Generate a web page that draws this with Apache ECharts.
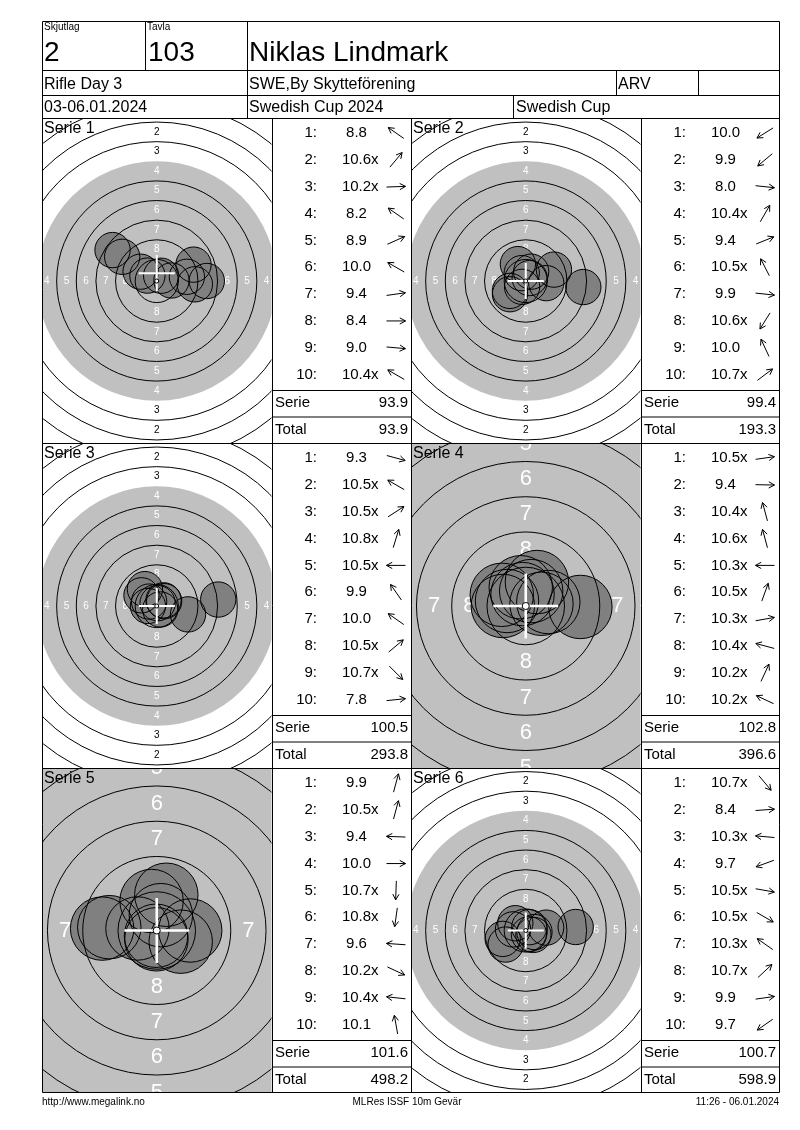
<!DOCTYPE html>
<html><head><meta charset="utf-8">
<script src="https://cdn.jsdelivr.net/npm/echarts@6/dist/echarts.min.js"></script>
<style>html,body{margin:0;padding:0;background:#fff}#c{width:800px;height:1130px}</style>
</head><body><div id="c"></div>
<script>
// ---------- data ----------
const headerLabels = ['Skjutlag', 'Tavla'];
const squad = '2';
const target = '103';
const shooterName = 'Niklas Lindmark';
const eventName = 'Rifle Day 3';
const clubName = 'SWE,By Skytteförening';
const classCode = 'ARV';
const dateText = '03-06.01.2024';
const competition = 'Swedish Cup 2024';
const competitionShort = 'Swedish Cup';
const footerLeft = 'http://www.megalink.no';
const footerMid = 'MLRes ISSF 10m Gevär';
const footerRight = '11:26 - 06.01.2024';
const serieNames = ['Serie 1', 'Serie 2', 'Serie 3', 'Serie 4', 'Serie 5', 'Serie 6'];

const serie1Scores = ['8.8', '10.6x', '10.2x', '8.2', '8.9', '10.0', '9.4', '8.4', '9.0', '10.4x'];
const serie2Scores = ['10.0', '9.9', '8.0', '10.4x', '9.4', '10.5x', '9.9', '10.6x', '10.0', '10.7x'];
const serie3Scores = ['9.3', '10.5x', '10.5x', '10.8x', '10.5x', '9.9', '10.0', '10.5x', '10.7x', '7.8'];
const serie4Scores = ['10.5x', '9.4', '10.4x', '10.6x', '10.3x', '10.5x', '10.3x', '10.4x', '10.2x', '10.2x'];
const serie5Scores = ['9.9', '10.5x', '9.4', '10.0', '10.7x', '10.8x', '9.6', '10.2x', '10.4x', '10.1'];
const serie6Scores = ['10.7x', '8.4', '10.3x', '9.7', '10.5x', '10.5x', '10.3x', '10.7x', '9.9', '9.7'];

// shot direction from the centre, degrees (0 = right, 90 = up)
const serie1Angles = [145, 50, 2, 145, 24, 150, 8, 0, -5, 150];
const serie2Angles = [212, 220, -6, 60, 22, 117, -6, 238, 115, 37];
const serie3Angles = [-15, 150, 33, 73, 180, 125, 145, 40, -45, 6];
const serie4Angles = [8, -1, 105, 105, 180, 70, 10, 165, 65, 155];
const serie5Angles = [75, 75, 178, 0, 268, 262, 176, -25, 174, 100];
const serie6Angles = [-50, 4, 175, 200, -10, -30, 145, 43, 8, 215];

const crossOffsetY = [1.0, 0, 0, 0, 0, 0];   // mm
const zoomedTarget = [false, false, false, true, true, false];

const allScores = [serie1Scores, serie2Scores, serie3Scores, serie4Scores, serie5Scores, serie6Scores];
const allAngles = [serie1Angles, serie2Angles, serie3Angles, serie4Angles, serie5Angles, serie6Angles];

// ---------- layout ----------
const FONT = '"Liberation Sans", Arial, sans-serif';
const targetLeft = [42, 411];
const targetWidth = 229.5;
const tableLeft = [272, 641];
const tableRight = [411, 779];
const rowEdges = [118.5, 443.5, 768.5, 1092.5];
const SCALE_NORMAL = 7.85, SCALE_ZOOM = 14.1; // px per mm
const SHOT_R = 2.25;
const ringR = k => 0.25 + (10 - k) * 2.5;

const measureCtx = document.createElement('canvas').getContext('2d');
function textW(t, size) { measureCtx.font = size + 'px ' + FONT; return measureCtx.measureText(t).width; }

function shotPositions(scores, angles) {
  return scores.map((s, i) => {
    const v = parseFloat(s);
    const d = Math.max(0, (10.95 - v) * 2.5);
    const a = angles[i] * Math.PI / 180;
    return [d * Math.cos(a), d * Math.sin(a)];
  });
}
function clipOf(params) {
  const cs = params.coordSys;
  return {type: 'rect', shape: {x: cs.x, y: cs.y, width: cs.width, height: cs.height}};
}
function txt(text, x, y, size, align, color, z) {
  return {type: 'text', x: x, y: y, z: z || 100, silent: true,
    style: {text: text, fill: color || '#000', font: size + 'px ' + FONT,
      align: align, verticalAlign: 'middle', textAlign: align, textVerticalAlign: 'middle'}};
}
function line(x1, y1, x2, y2, z) {
  return {type: 'line', z: z || 100, silent: true, shape: {x1: x1, y1: y1, x2: x2, y2: y2},
    style: {stroke: '#000', lineWidth: 1}};
}

const grids = [], xAxes = [], yAxes = [], series = [];
for (let p = 0; p < 6; p++) {
  const r = Math.floor(p / 2), c = p % 2;
  const top = rowEdges[r], h = rowEdges[r + 1] - rowEdges[r];
  const sc = zoomedTarget[p] ? SCALE_ZOOM : SCALE_NORMAL;
  const hx = targetWidth / 2 / sc, hy = h / 2 / sc;
  grids.push({left: targetLeft[c], top: top, width: targetWidth, height: h, containLabel: false});
  xAxes.push({type: 'value', gridIndex: p, min: -hx, max: hx, show: false});
  yAxes.push({type: 'value', gridIndex: p, min: -hy, max: hy, show: false});
  const zoomed = zoomedTarget[p];
  const shots = shotPositions(allScores[p], allAngles[p]);

  // target face: grey disc and ring numbers
  series.push({type: 'custom', xAxisIndex: p, yAxisIndex: p, z: 1, silent: true, data: [[0, 0]],
    renderItem: function (params, api) {
      const ctr = api.coord([0, 0]); const k = api.size([1, 0])[0];
      const ch = [{type: 'circle', shape: {cx: ctr[0], cy: ctr[1], r: 15.25 * k}, style: {fill: '#c0c0c0'}}];
      const fs = zoomed ? 22 : 10;
      for (let zr = 1; zr <= 8; zr++) {
        const m = (ringR(zr) - 1.25) * k;
        const col = zr >= 4 ? '#ffffff' : '#000000';
        [[0, -m], [0, m], [-m, 0], [m, 0]].forEach(o => ch.push({type: 'text', x: ctr[0] + o[0], y: ctr[1] + o[1],
          style: {text: String(zr), fill: col, font: fs + 'px ' + FONT, align: 'center', verticalAlign: 'middle',
            textAlign: 'center', textVerticalAlign: 'middle'}}));
      }
      return {type: 'group', children: ch, clipPath: clipOf(params)};
    }});
  // shot fills
  series.push({type: 'custom', xAxisIndex: p, yAxisIndex: p, z: 2, silent: true, data: shots,
    renderItem: function (params, api) {
      const pt = api.coord([api.value(0), api.value(1)]); const k = api.size([1, 0])[0];
      return {type: 'circle', shape: {cx: pt[0], cy: pt[1], r: SHOT_R * k}, style: {fill: '#808080', stroke: null}};
    }});
  // ring lines
  series.push({type: 'custom', xAxisIndex: p, yAxisIndex: p, z: 3, silent: true, data: [[0, 0]],
    renderItem: function (params, api) {
      const ctr = api.coord([0, 0]); const k = api.size([1, 0])[0];
      const ch = [];
      [1, 2, 3, 5, 6, 7, 8, 9].forEach(zr => ch.push({type: 'circle', shape: {cx: ctr[0], cy: ctr[1], r: ringR(zr) * k},
        style: {fill: 'none', stroke: '#000', lineWidth: 1}}));
      return {type: 'group', children: ch, clipPath: clipOf(params)};
    }});
  // shot outlines
  series.push({type: 'custom', xAxisIndex: p, yAxisIndex: p, z: 4, silent: true, data: shots,
    renderItem: function (params, api) {
      const pt = api.coord([api.value(0), api.value(1)]); const k = api.size([1, 0])[0];
      return {type: 'circle', shape: {cx: pt[0], cy: pt[1], r: SHOT_R * k}, style: {fill: 'none', stroke: '#000', lineWidth: 1}};
    }});
  // cross and centre (ring 10)
  series.push({type: 'custom', xAxisIndex: p, yAxisIndex: p, z: 5, silent: true, data: [[0, crossOffsetY[p]]],
    renderItem: function (params, api) {
      const pt = api.coord([api.value(0), api.value(1)]); const k = api.size([1, 0])[0];
      const ctr = api.coord([0, 0]);
      const L = 2.3 * k, lw = zoomed ? 2.6 : 2;
      return {type: 'group', children: [
        {type: 'line', shape: {x1: pt[0] - L, y1: pt[1], x2: pt[0] + L, y2: pt[1]}, style: {stroke: '#fff', lineWidth: lw}},
        {type: 'line', shape: {x1: pt[0], y1: pt[1] - L, x2: pt[0], y2: pt[1] + L}, style: {stroke: '#fff', lineWidth: lw}},
        {type: 'circle', shape: {cx: ctr[0], cy: ctr[1], r: Math.max(2, 0.25 * k)}, style: {fill: '#fff', stroke: '#000', lineWidth: 1}}
      ]};
    }});
}

// ---------- header, tables, footer (graphic) ----------
const G = [];
G.push(line(42.5, 21.5, 779.5, 21.5), line(42.5, 1092.5, 779.5, 1092.5),
  line(42.5, 21.5, 42.5, 1092.5), line(779.5, 21.5, 779.5, 1092.5));
G.push(line(42.5, 70.5, 779.5, 70.5), line(42.5, 95.5, 779.5, 95.5), line(42.5, 118.5, 779.5, 118.5));
G.push(line(145.5, 21.5, 145.5, 70.5), line(247.5, 21.5, 247.5, 118.5),
  line(616.5, 70.5, 616.5, 95.5), line(698.5, 70.5, 698.5, 95.5), line(513.5, 95.5, 513.5, 118.5));
G.push(line(42.5, 443.5, 779.5, 443.5), line(42.5, 768.5, 779.5, 768.5));
[272.5, 411.5, 641.5].forEach(x => G.push(line(x, 118.5, x, 1092.5)));

G.push(txt(headerLabels[0], 44, 27.5, 10, 'left'), txt(headerLabels[1], 147, 27.5, 10, 'left'));
G.push(txt(squad, 44, 53, 28, 'left'), txt(target, 148, 53, 28, 'left'), txt(shooterName, 249, 53, 28, 'left'));
G.push(txt(eventName, 44, 84.5, 16, 'left'), txt(clubName, 249, 84.5, 16, 'left'), txt(classCode, 618, 84.5, 16, 'left'));
G.push(txt(dateText, 44, 108, 16, 'left'), txt(competition, 249, 108, 16, 'left'), txt(competitionShort, 516, 108, 16, 'left'));
G.push(txt(footerLeft, 42, 1102, 10, 'left'), txt(footerMid, 407, 1102, 10, 'center'), txt(footerRight, 779, 1102, 10, 'right'));

let running = 0;
for (let p = 0; p < 6; p++) {
  const r = Math.floor(p / 2), c = p % 2;
  const top = rowEdges[r];
  const tl = tableLeft[c], tr = tableRight[c];
  G.push(txt(serieNames[p], targetLeft[c] + 2, top + 10, 16, 'left', '#000', 110));
  const scores = allScores[p], angles = allAngles[p];
  let sum = 0;
  scores.forEach((s, i) => {
    const y = top + 14.5 + i * 26.85;
    const num = s.replace('x', '');
    sum += parseFloat(num);
    G.push(txt((i + 1) + ':', tl + 45, y, 15, 'right'));
    const cx = tl + 84.5;
    G.push(txt(num, cx, y, 15, 'center'));
    if (s.indexOf('x') >= 0) G.push(txt('x', cx + textW(num, 15) / 2, y, 15, 'left'));
    const a = angles[i] * Math.PI / 180, ax = tl + 124, half = 9.5, hl = 6.5, hw = 0.5;
    const hx = ax + half * Math.cos(a), hy = y - half * Math.sin(a);
    const tx = ax - half * Math.cos(a), ty = y + half * Math.sin(a);
    G.push({type: 'polyline', z: 100, silent: true, shape: {points: [[tx, ty], [hx, hy]]}, style: {stroke: '#000', lineWidth: 1, fill: 'none'}});
    G.push({type: 'polyline', z: 100, silent: true, shape: {points: [
      [hx - hl * Math.cos(a - hw), hy + hl * Math.sin(a - hw)], [hx, hy],
      [hx - hl * Math.cos(a + hw), hy + hl * Math.sin(a + hw)]]}, style: {stroke: '#000', lineWidth: 1, fill: 'none'}});
  });
  running += sum;
  G.push(line(tl, top + 272, tr, top + 272), line(tl, top + 298.5, tr, top + 298.5));
  G.push(txt('Serie', tl + 3, top + 284.5, 15, 'left'), txt(sum.toFixed(1), tr - 3, top + 284.5, 15, 'right'));
  G.push(txt('Total', tl + 3, top + 311, 15, 'left'), txt(running.toFixed(1), tr - 3, top + 311, 15, 'right'));
}

const chart = echarts.init(document.getElementById('c'), null, {renderer: 'canvas'});
chart.setOption({
  animation: false,
  backgroundColor: '#ffffff',
  grid: grids, xAxis: xAxes, yAxis: yAxes, series: series,
  graphic: {elements: G}
});
</script></body></html>
